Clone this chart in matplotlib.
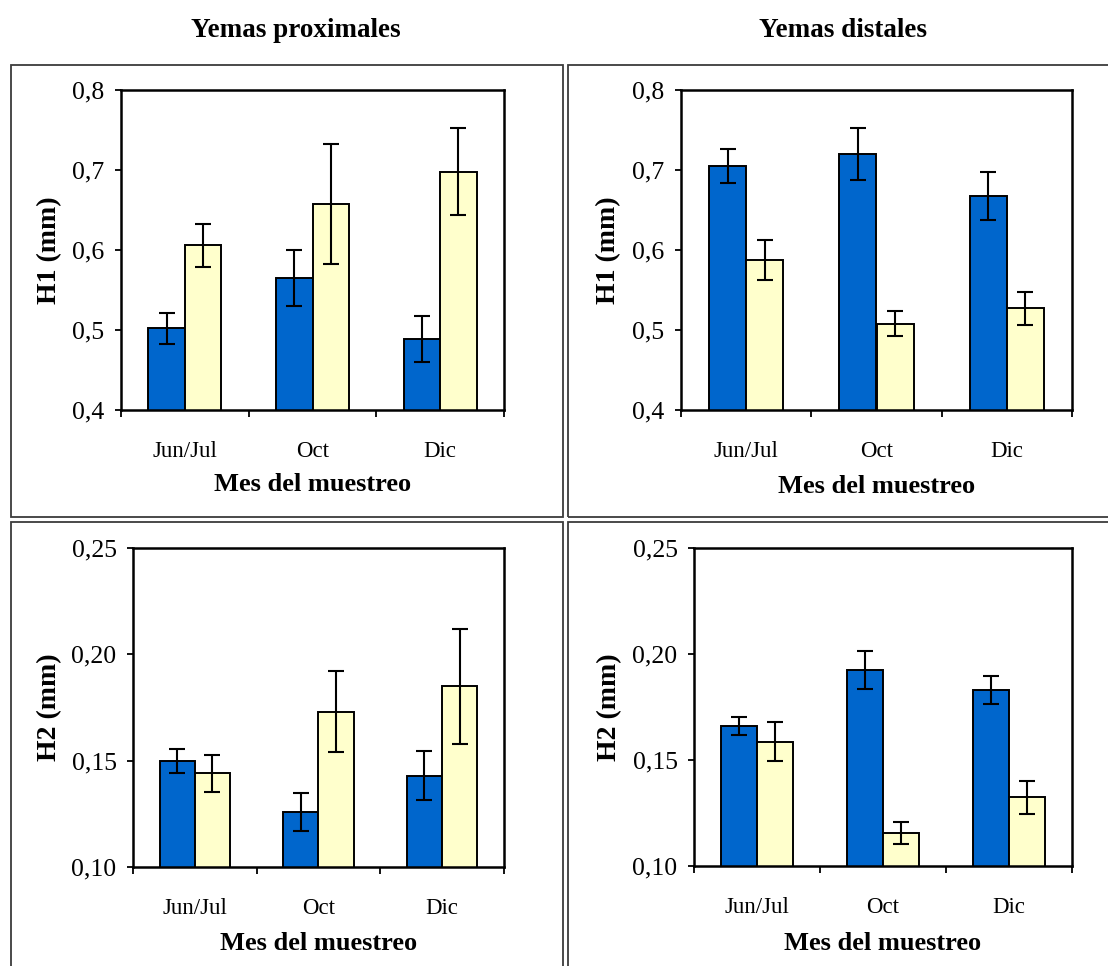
import matplotlib
matplotlib.use("Agg")
import matplotlib.pyplot as plt
from matplotlib.patches import Rectangle
import numpy as np

# ---- data -------------------------------------------------------------
months = ["Jun/Jul", "Oct", "Dic"]
col_titles = ["Yemas proximales", "Yemas distales"]

h1_prox_blue = [0.502, 0.565, 0.489]
h1_prox_blue_err = [0.019, 0.035, 0.029]
h1_prox_yellow = [0.606, 0.657, 0.698]
h1_prox_yellow_err = [0.027, 0.075, 0.054]

h1_dist_blue = [0.705, 0.720, 0.667]
h1_dist_blue_err = [0.021, 0.033, 0.030]
h1_dist_yellow = [0.587, 0.508, 0.527]
h1_dist_yellow_err = [0.025, 0.016, 0.021]

h2_prox_blue = [0.150, 0.126, 0.143]
h2_prox_blue_err = [0.0056, 0.009, 0.0114]
h2_prox_yellow = [0.144, 0.173, 0.185]
h2_prox_yellow_err = [0.0085, 0.019, 0.027]

h2_dist_blue = [0.166, 0.1925, 0.183]
h2_dist_blue_err = [0.0043, 0.009, 0.0067]
h2_dist_yellow = [0.1587, 0.1156, 0.1324]
h2_dist_yellow_err = [0.009, 0.005, 0.0078]

h1_ticks = [0.4, 0.5, 0.6, 0.7, 0.8]
h1_ticklabels = ["0,4", "0,5", "0,6", "0,7", "0,8"]
h2_ticks = [0.10, 0.15, 0.20, 0.25]
h2_ticklabels = ["0,10", "0,15", "0,20", "0,25"]

# ---- style ------------------------------------------------------------
BLUE = "#0066CC"
YELLOW = "#FFFFCC"
FONT = "Liberation Serif"
plt.rcParams["font.family"] = FONT

W, H = 1108, 966
fig = plt.figure(figsize=(W / 100, H / 100), dpi=100)
fig.patch.set_facecolor("white")


def px_rect(x0, y0, x1, y1):
    return [x0 / W, 1 - y1 / H, (x1 - x0) / W, (y1 - y0) / H]


# panel frames
for (x0, y0, x1, y1) in [(11, 65, 563, 517), (568, 65, 1130, 517),
                         (11, 522, 563, 990), (568, 522, 1130, 990)]:
    fig.add_artist(Rectangle((x0 / W, 1 - y1 / H), (x1 - x0) / W, (y1 - y0) / H,
                             transform=fig.transFigure, fill=False,
                             ec="#3c3c3c", lw=1.3))

panels = [
    dict(rect=(121, 90, 504, 410), blue=h1_prox_blue, berr=h1_prox_blue_err,
         yellow=h1_prox_yellow, yerr=h1_prox_yellow_err, ticks=h1_ticks,
         labels=h1_ticklabels, ylabel="H1 (mm)", ylab_x=62, xlab_y=473),
    dict(rect=(681, 90, 1072, 410), blue=h1_dist_blue, berr=h1_dist_blue_err,
         yellow=h1_dist_yellow, yerr=h1_dist_yellow_err, ticks=h1_ticks,
         labels=h1_ticklabels, ylabel="H1 (mm)", ylab_x=621, xlab_y=475),
    dict(rect=(133, 548, 504, 867), blue=h2_prox_blue, berr=h2_prox_blue_err,
         yellow=h2_prox_yellow, yerr=h2_prox_yellow_err, ticks=h2_ticks,
         labels=h2_ticklabels, ylabel="H2 (mm)", ylab_x=62, xlab_y=932),
    dict(rect=(694, 548, 1072, 866), blue=h2_dist_blue, berr=h2_dist_blue_err,
         yellow=h2_dist_yellow, yerr=h2_dist_yellow_err, ticks=h2_ticks,
         labels=h2_ticklabels, ylabel="H2 (mm)", ylab_x=622, xlab_y=932),
]

x = np.arange(len(months))
bw = 1 / 3.5  # Excel-style 150% gap width
err_style = dict(ecolor="black", elinewidth=1.5, capsize=5.8, capthick=1.5)

for p in panels:
    x0, y0, x1, y1 = p["rect"]
    ax = fig.add_axes(px_rect(x0, y0, x1, y1))
    ax.bar(x - bw / 2, p["blue"], bw, yerr=p["berr"], color=BLUE,
           edgecolor="black", linewidth=1.4, error_kw=err_style, zorder=2)
    ax.bar(x + bw / 2, p["yellow"], bw, yerr=p["yerr"], color=YELLOW,
           edgecolor="black", linewidth=1.4, error_kw=err_style, zorder=2)

    ax.set_xlim(-0.5, len(months) - 0.5)
    ax.set_ylim(p["ticks"][0], p["ticks"][-1])

    # category boundaries carry the tick marks, centres carry the labels
    ax.set_xticks(np.arange(-0.5, len(months), 1.0))
    ax.set_xticklabels([])
    ax.set_xticks(x, minor=True)
    ax.set_xticklabels(months, minor=True, fontsize=16.5)
    ax.tick_params(axis="x", which="major", direction="out", length=5,
                   width=1.3, color="black")
    ax.tick_params(axis="x", which="minor", length=0, pad=22.5)

    ax.set_yticks(p["ticks"])
    ax.set_yticklabels(p["labels"], fontsize=18.5)
    ax.tick_params(axis="y", direction="out", length=4.3, width=1.3, pad=7.5)

    for s in ax.spines.values():
        s.set_linewidth(1.8)
        s.set_color("black")

    ax.set_xlabel("Mes del muestreo", fontsize=19, fontweight="bold")
    ax.xaxis.set_label_coords(0.5, -(p["xlab_y"] - y1) / (y1 - y0))
    ax.set_ylabel(p["ylabel"], fontsize=20, fontweight="bold")
    ax.yaxis.set_label_coords((p["ylab_x"] - x0) / (x1 - x0), 0.5)

# column titles
fig.text(296 / W, 1 - 36.7 / H, col_titles[0], ha="center", va="baseline",
         fontsize=19.5, fontweight="bold")
fig.text(843 / W, 1 - 36.7 / H, col_titles[1], ha="center", va="baseline",
         fontsize=19.5, fontweight="bold")

fig.savefig("out.png", dpi=100, facecolor="white")
